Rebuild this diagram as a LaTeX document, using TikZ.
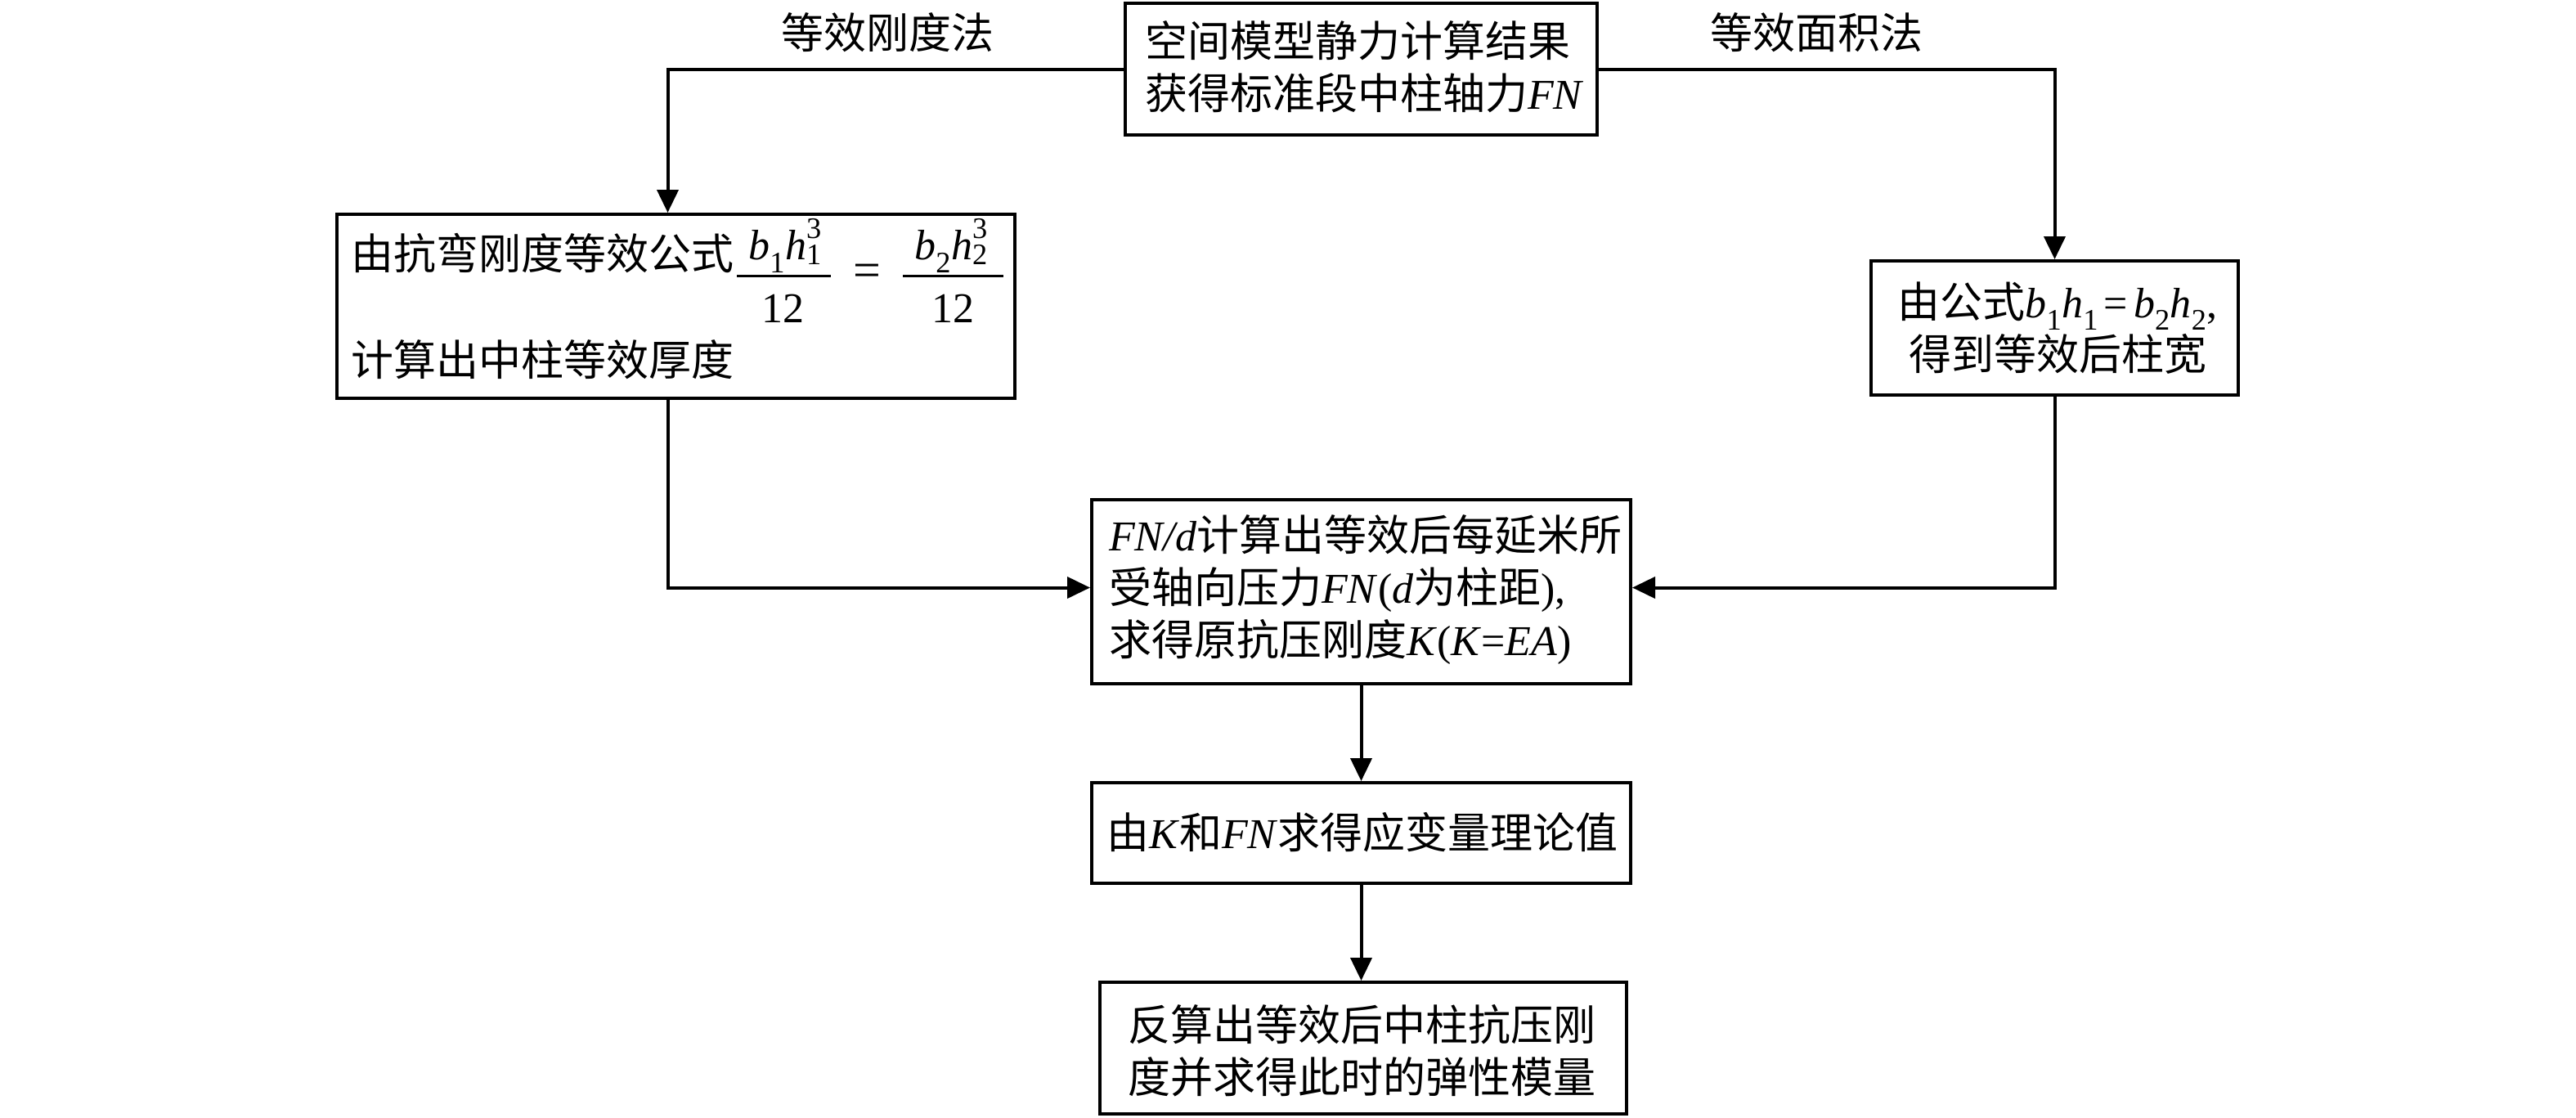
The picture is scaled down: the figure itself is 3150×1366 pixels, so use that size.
\documentclass[tikz,border=0pt]{standalone}
\usepackage{amsmath}
\usepackage{fontspec}
\setmainfont{Liberation Serif}
\newfontfamily\cjk{Noto Sans CJK SC}
\usetikzlibrary{arrows.meta}
\newcommand\zhs[1]{{\cjk #1}}
\begin{document}
\begin{tikzpicture}[x=1pt,y=-1pt,
  box/.style={draw, line width=4pt, inner sep=0pt},
  txt/.style={inner sep=0pt, font=\fontsize{52}{64}\selectfont},
  arr/.style={line width=4pt, -{Triangle[length=28pt,width=26pt]}},
  ln/.style={line width=4pt}]
\useasboundingbox (0,0) rectangle (3150,1366);
% boxes
\node[box, minimum width=577pt, minimum height=161pt] (top) at (1664.5,84.5) {};
\node[box, minimum width=829pt, minimum height=225pt] (lbox) at (826.5,374.5) {};
\node[box, minimum width=449pt, minimum height=164pt] (rbox) at (2512.5,401) {};
\node[box, minimum width=659pt, minimum height=225pt] (mid) at (1664.5,723.5) {};
\node[box, minimum width=659pt, minimum height=123pt] (b4) at (1664.5,1018.5) {};
\node[box, minimum width=644pt, minimum height=161pt] (b5) at (1667,1281.5) {};
% texts
\node[txt, anchor=west, align=left] (ttop) at (1400,81.5) {\zhs{空间模型静力计算结果}\\\zhs{获得标准段中柱轴力}\textit{FN}};
\node[txt] (lab1) at (1085,40) {\zhs{等效刚度法}};
\node[txt] (lab2) at (2221,40) {\zhs{等效面积法}};
\node[txt, anchor=west] (l1) at (429,310) {\zhs{由抗弯刚度等效公式}};
\node[txt] (n1) at (960,300) {$\textit{b}_{\textrm{1}}\textit{h}_{\textrm{1}}^{\textrm{3}}$};
\node[txt] (d1) at (957,377) {12};
\node[txt, font=\fontsize{60}{64}\selectfont] (eq) at (1060,337) {=};
\node[txt] (n2) at (1163,300) {$\textit{b}_{\textrm{2}}\textit{h}_{\textrm{2}}^{\textrm{3}}$};
\node[txt] (d2) at (1165,377) {12};
\draw[line width=3pt] (901,337) -- (1016,337);
\draw[line width=3pt] (1104,337) -- (1227,337);
\node[txt, anchor=west] (l2) at (429,440) {\zhs{计算出中柱等效厚度}};
\node[txt, align=center] (tr) at (2516,401) {\zhs{由公式}$\textit{b}_{\textrm{1}}\textit{h}_{\textrm{1}}\;\textrm{=}\;\textit{b}_{\textrm{2}}\textit{h}_{\textrm{2}}$,\\\zhs{得到等效后柱宽}};
\node[txt, anchor=west, align=left] (tm) at (1356,721) {\textit{FN/d}\zhs{计算出等效后每延米所}\\\zhs{受轴向压力}\textit{FN}(\textit{d}\zhs{为柱距}),\\\zhs{求得原抗压刚度}\textit{K}(\textit{K}=\textit{EA})};
\node[txt] (t4) at (1666,1018) {\zhs{由}\textit{K}\zhs{和}\textit{FN}\zhs{求得应变量理论值}};
\node[txt, align=center] (t5) at (1665,1285) {\zhs{反算出等效后中柱抗压刚}\\\zhs{度并求得此时的弹性模量}};
% connectors
\draw[arr] (top.west) -| ([xshift=-10pt]lbox.north);
\draw[arr] (top.east) -| (rbox.north);
\draw[arr] ([xshift=-10pt]lbox.south) |- ([yshift=5pt]mid.west);
\draw[arr] (rbox.south) |- ([yshift=5pt]mid.east);
\draw[arr] (mid.south) -- (b4.north);
\draw[arr] (b4.south) -- (b4.south |- b5.north);
\end{tikzpicture}
\end{document}
